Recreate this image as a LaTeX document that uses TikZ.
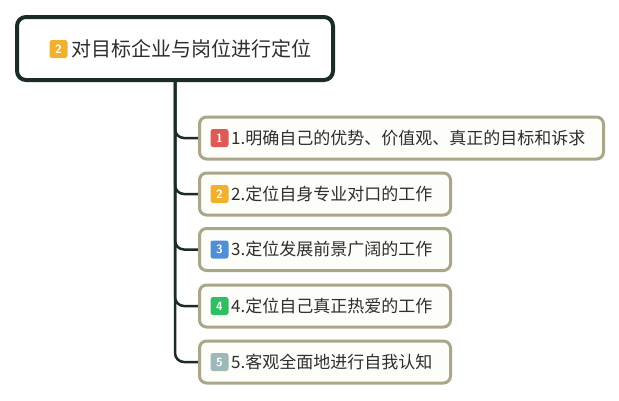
\documentclass[tikz,border=0pt]{standalone}
\usepackage{fontspec}
\usetikzlibrary{backgrounds}
\newfontfamily\cjk{Noto Sans CJK SC}
\begin{document}
\begin{tikzpicture}[x=1pt,y=-1pt,
  rootbox/.style={draw=rootline,line width=4pt,rounded corners=9pt,fill=white,minimum width=316pt,minimum height=63pt,inner sep=0pt},
  childbox/.style={draw=childline,line width=3pt,rounded corners=7pt,fill=childfill,minimum height=42pt,inner sep=0pt,anchor=west},
  badge/.style={fill=#1,rounded corners=2.5pt,minimum width=18pt,minimum height=18pt,inner sep=0pt,text=white,font=\fontsize{12}{12}\selectfont\sffamily\bfseries},
  rootlabel/.style={anchor=west,inner sep=0pt,text=textc,font=\cjk\fontsize{20}{22}\selectfont},
  childlabel/.style={anchor=west,inner sep=0pt,text=textc,font=\cjk\fontsize{17}{19}\selectfont},
  conn/.style={draw=rootline,line width=2.5pt,rounded corners=9pt}
]
\definecolor{rootline}{HTML}{1B2B28}
\definecolor{childline}{HTML}{A9A68A}
\definecolor{childfill}{HTML}{FDFDF9}
\definecolor{textc}{HTML}{2E2E2E}
\definecolor{bred}{HTML}{DD5A57}
\definecolor{byel}{HTML}{F0B12E}
\definecolor{bblue}{HTML}{4F8FD8}
\definecolor{bgreen}{HTML}{2FBF63}
\definecolor{bgray}{HTML}{9DB8B8}
\useasboundingbox (0,0) rectangle (619,400);
\node[rootbox] (root) at (175,48.5) {};
\node[childbox,minimum width=404pt] (c1) at (198,138) {};
\node[childbox,minimum width=251pt] (c2) at (198,194) {};
\node[childbox,minimum width=251pt] (c3) at (198,249.5) {};
\node[childbox,minimum width=251pt] (c4) at (198,306) {};
\node[childbox,minimum width=251pt] (c5) at (198,362) {};
\begin{scope}[on background layer]
\fill[white] (0,0) rectangle (619,400);
\foreach \c in {c1,c2,c3,c4,c5}{\draw[conn] (root.south) |- (\c.west);}
\end{scope}
\node[badge=byel] (rb) at (58.5,49) {2};
\node[rootlabel] (rt) at (71,49) {对目标企业与岗位进行定位};
\node[badge=bred] (b1) at (219.5,138) {1};
\node[childlabel] (t1) at (231,138) {1.明确自己的优势、价值观、真正的目标和诉求};
\node[badge=byel] (b2) at (219.5,194) {2};
\node[childlabel] (t2) at (231,194) {2.定位自身专业对口的工作};
\node[badge=bblue] (b3) at (219.5,249.5) {3};
\node[childlabel] (t3) at (231,249.5) {3.定位发展前景广阔的工作};
\node[badge=bgreen] (b4) at (219.5,306) {4};
\node[childlabel] (t4) at (231,306) {4.定位自己真正热爱的工作};
\node[badge=bgray] (b5) at (219.5,362) {5};
\node[childlabel] (t5) at (231,362) {5.客观全面地进行自我认知};
\end{tikzpicture}
\end{document}
